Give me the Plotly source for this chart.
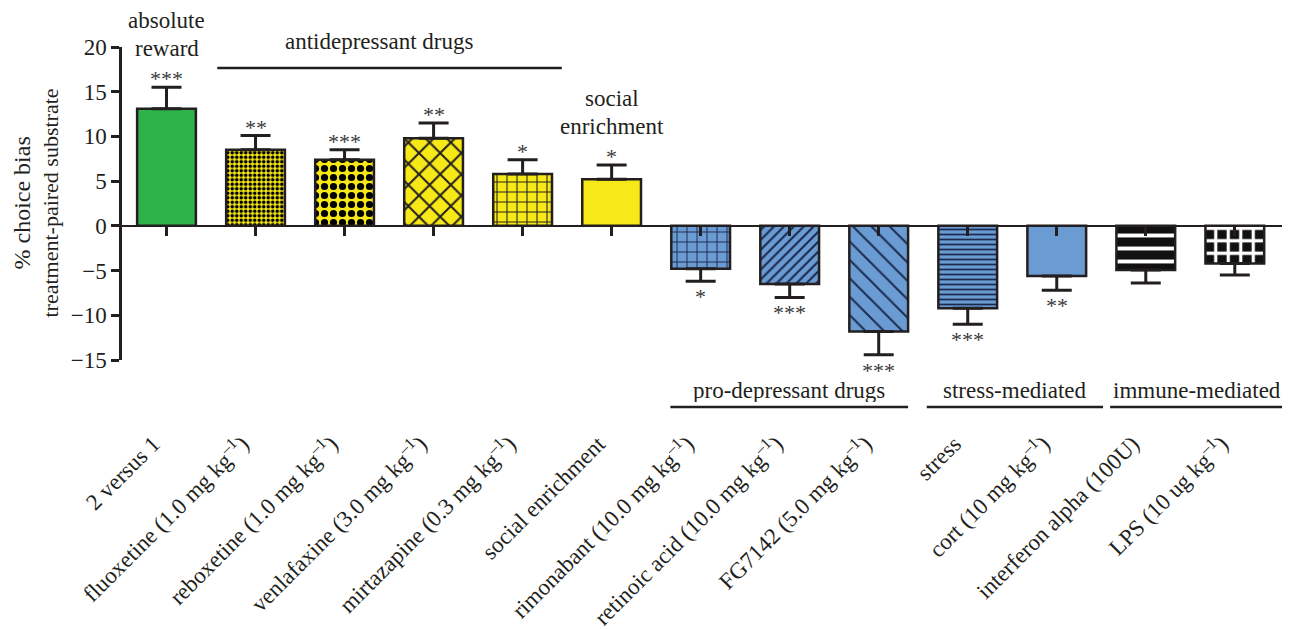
import plotly.graph_objects as go

# ---------------- data ----------------
categories = [
    "2 versus 1",
    "fluoxetine (1.0 mg kg<sup>–1</sup>)",
    "reboxetine (1.0 mg kg<sup>–1</sup>)",
    "venlafaxine (3.0 mg kg<sup>–1</sup>)",
    "mirtazapine (0.3 mg kg<sup>–1</sup>)",
    "social enrichment",
    "rimonabant (10.0 mg kg<sup>–1</sup>)",
    "retinoic acid (10.0 mg kg<sup>–1</sup>)",
    "FG7142 (5.0 mg kg<sup>–1</sup>)",
    "stress",
    "cort (10 mg kg<sup>–1</sup>)",
    "interferon alpha (100U)",
    "LPS (10 ug kg<sup>–1</sup>)",
]
values = [13.1, 8.5, 7.4, 9.8, 5.8, 5.2, -4.8, -6.5, -11.8, -9.2, -5.6, -4.95, -4.2]
sem = [2.4, 1.6, 1.1, 1.7, 1.6, 1.6, 1.4, 1.5, 2.6, 1.8, 1.6, 1.45, 1.3]
stars = ["***", "**", "***", "**", "*", "*", "*", "***", "***", "***", "**", "", ""]
y_ticks = [-15, -10, -5, 0, 5, 10, 15, 20]

# group brackets: (label, first index, last index)
top_groups = [("antidepressant drugs", 1, 4)]
bottom_groups = [("pro-depressant drugs", 6, 8), ("stress-mediated", 9, 10), ("immune-mediated", 11, 12)]
# single-bar headings: (lines, category index)
single_labels = [(["absolute", "reward"], 0), (["social", "enrichment"], 5)]

# ---------------- styles ----------------
GREEN, YELLOW, BLUE = "#2db34a", "#f7e817", "#6a9bd2"
INK = "#231f20"
NAVY = "#1b2b4f"
FONT = "Liberation Serif, Times New Roman, serif"
colors = [GREEN, YELLOW, YELLOW, YELLOW, YELLOW, YELLOW, BLUE, BLUE, BLUE, BLUE, BLUE, "#111111", "#111111"]
p_shape = ["", ".", ".", "x", "+", "", "+", "/", "\\", "-", "", "-", "+"]
p_size = [8, 4.5, 9, 15, 10, 8, 10, 7, 13, 5, 8, 13, 12.5]
p_solid = [0.3, 0.5, 0.5, 0.25, 0.2, 0.3, 0.18, 0.3, 0.15, 0.35, 0.3, 0.3, 0.45]
p_fg = [INK, "black", "black", INK, INK, INK, NAVY, NAVY, NAVY, NAVY, INK, "white", "white"]

OFF = 8  # default page body margin
W, H = 1290 - OFF, 629 - OFF
L, T = 122 - OFF, 47 - OFF
paper_bottom_ref = 425
B = H - (paper_bottom_ref - OFF)
R = 0
plot_h = H - T - B
plot_w = W - L - R
y_px_bottom = 360  # reference pixel row of y = -15
y_dom0 = (paper_bottom_ref - y_px_bottom) / plot_h
yr = [-15, 20]


def paper_y(px):
    return (paper_bottom_ref - px) / plot_h


def paper_x(px):
    return (px - 122) / plot_w


zero_pos = y_dom0 + (0 - yr[0]) / (yr[1] - yr[0]) * (1 - y_dom0)

idx = list(range(len(categories)))
plus = [e if v > 0 else 0 for v, e in zip(values, sem)]
minus = [e if v < 0 else 0 for v, e in zip(values, sem)]

fig = go.Figure()
for i in idx:
    marker = dict(color=colors[i], line=dict(color=INK, width=2.5))
    if p_shape[i]:
        marker["pattern"] = dict(shape=p_shape[i], size=p_size[i], solidity=p_solid[i],
                                 fgcolor=p_fg[i], fgopacity=1, bgcolor=colors[i],
                                 fillmode="overlay")
    fig.add_trace(go.Bar(
        x=[i], y=[values[i]], width=0.66, marker=marker,
        error_y=dict(type="data", symmetric=False, array=[plus[i]], arrayminus=[minus[i]],
                     color=INK, thickness=3, width=15),
        showlegend=False, hoverinfo="skip",
    ))
# invisible helper trace for the bottom tick-label axis
fig.add_trace(go.Scatter(x=idx, y=values, xaxis="x2", yaxis="y", mode="none",
                         showlegend=False, hoverinfo="skip"))

xr = [-0.5, 12.62]
lab_shift = 0.15
fig.update_layout(
    width=W, height=H, autosize=False,
    margin=dict(l=L, r=R, t=T, b=B),
    paper_bgcolor="white", plot_bgcolor="white",
    font=dict(family=FONT, size=23, color=INK),
    barmode="overlay",
    xaxis=dict(range=xr, anchor="free", position=zero_pos, showline=True, linecolor=INK,
               linewidth=1.5, ticks="outside", ticklen=9, tickwidth=2.5, tickcolor=INK,
               tickvals=idx, showticklabels=False, showgrid=False, zeroline=False),
    xaxis2=dict(range=[xr[0] + lab_shift, xr[1] + lab_shift], overlaying="x", anchor="free",
                position=0, showline=False, ticks="", tickvals=idx, ticktext=categories,
                tickangle=-45, showgrid=False, zeroline=False,
                tickfont=dict(family=FONT, size=23, color=INK)),
    yaxis=dict(range=yr, domain=[y_dom0, 1], showline=True, linecolor=INK, linewidth=2.5,
               ticks="outside", ticklen=8, tickwidth=2.5, tickcolor=INK, tickvals=y_ticks,
               showgrid=False, zeroline=False, tickfont=dict(family=FONT, size=23, color=INK)),
)

ann = []
star_font = dict(family=FONT, size=22, color="#3a3a3a")
for i, (v, e, s) in enumerate(zip(values, sem, stars)):
    if not s:
        continue
    if v > 0:
        ann.append(dict(x=i, y=v + e, xref="x", yref="y", text=s, showarrow=False,
                        yanchor="bottom", yshift=3, height=16, valign="top", font=star_font))
    else:
        ann.append(dict(x=i, y=v - e, xref="x", yref="y", text=s, showarrow=False,
                        yanchor="top", yshift=-1, height=14, valign="top", font=star_font))

lab_font = dict(family=FONT, size=23, color=INK)
shapes = []
for name, a, b in top_groups:
    x0, x1 = a - 0.43, b + 0.44
    shapes.append(dict(type="line", xref="x", yref="paper", x0=x0, x1=x1,
                       y0=paper_y(68), y1=paper_y(68), line=dict(color=INK, width=2.5)))
    ann.append(dict(x=(x0 + x1) / 2 - 0.12, y=paper_y(42), xref="x", yref="paper", text=name,
                    showarrow=False, yanchor="middle", font=lab_font))
pads = [(0.34, 0.33), (0.46, 0.52), (0.4, 0.56)]
for (name, a, b), (pa, pb) in zip(bottom_groups, pads):
    x0, x1 = a - pa, b + pb
    shapes.append(dict(type="line", xref="x", yref="paper", x0=x0, x1=x1,
                       y0=paper_y(407), y1=paper_y(407), line=dict(color=INK, width=2.5)))
    ann.append(dict(x=(x0 + x1) / 2, y=paper_y(390), xref="x", yref="paper", text=name,
                    showarrow=False, yanchor="middle", height=24, font=lab_font))
head_rows = {0: [20, 48], 5: [98, 126]}
for lines, i in single_labels:
    for line_text, row in zip(lines, head_rows[i]):
        ann.append(dict(x=i, y=paper_y(row), xref="x", yref="paper", text=line_text,
                        showarrow=False, yanchor="middle", height=24, font=lab_font))

# y-axis title (two lines)
ann.append(dict(x=paper_x(21), y=2.5, xref="paper", yref="y", text="% choice bias",
                textangle=-90, showarrow=False, xanchor="center", yanchor="middle",
                font=dict(family=FONT, size=24, color=INK)))
ann.append(dict(x=paper_x(50), y=2.5, xref="paper", yref="y", text="treatment-paired substrate",
                textangle=-90, showarrow=False, xanchor="center", yanchor="middle",
                font=dict(family=FONT, size=22, color=INK)))

fig.update_layout(annotations=ann, shapes=shapes)
fig.write_html("out.html")
